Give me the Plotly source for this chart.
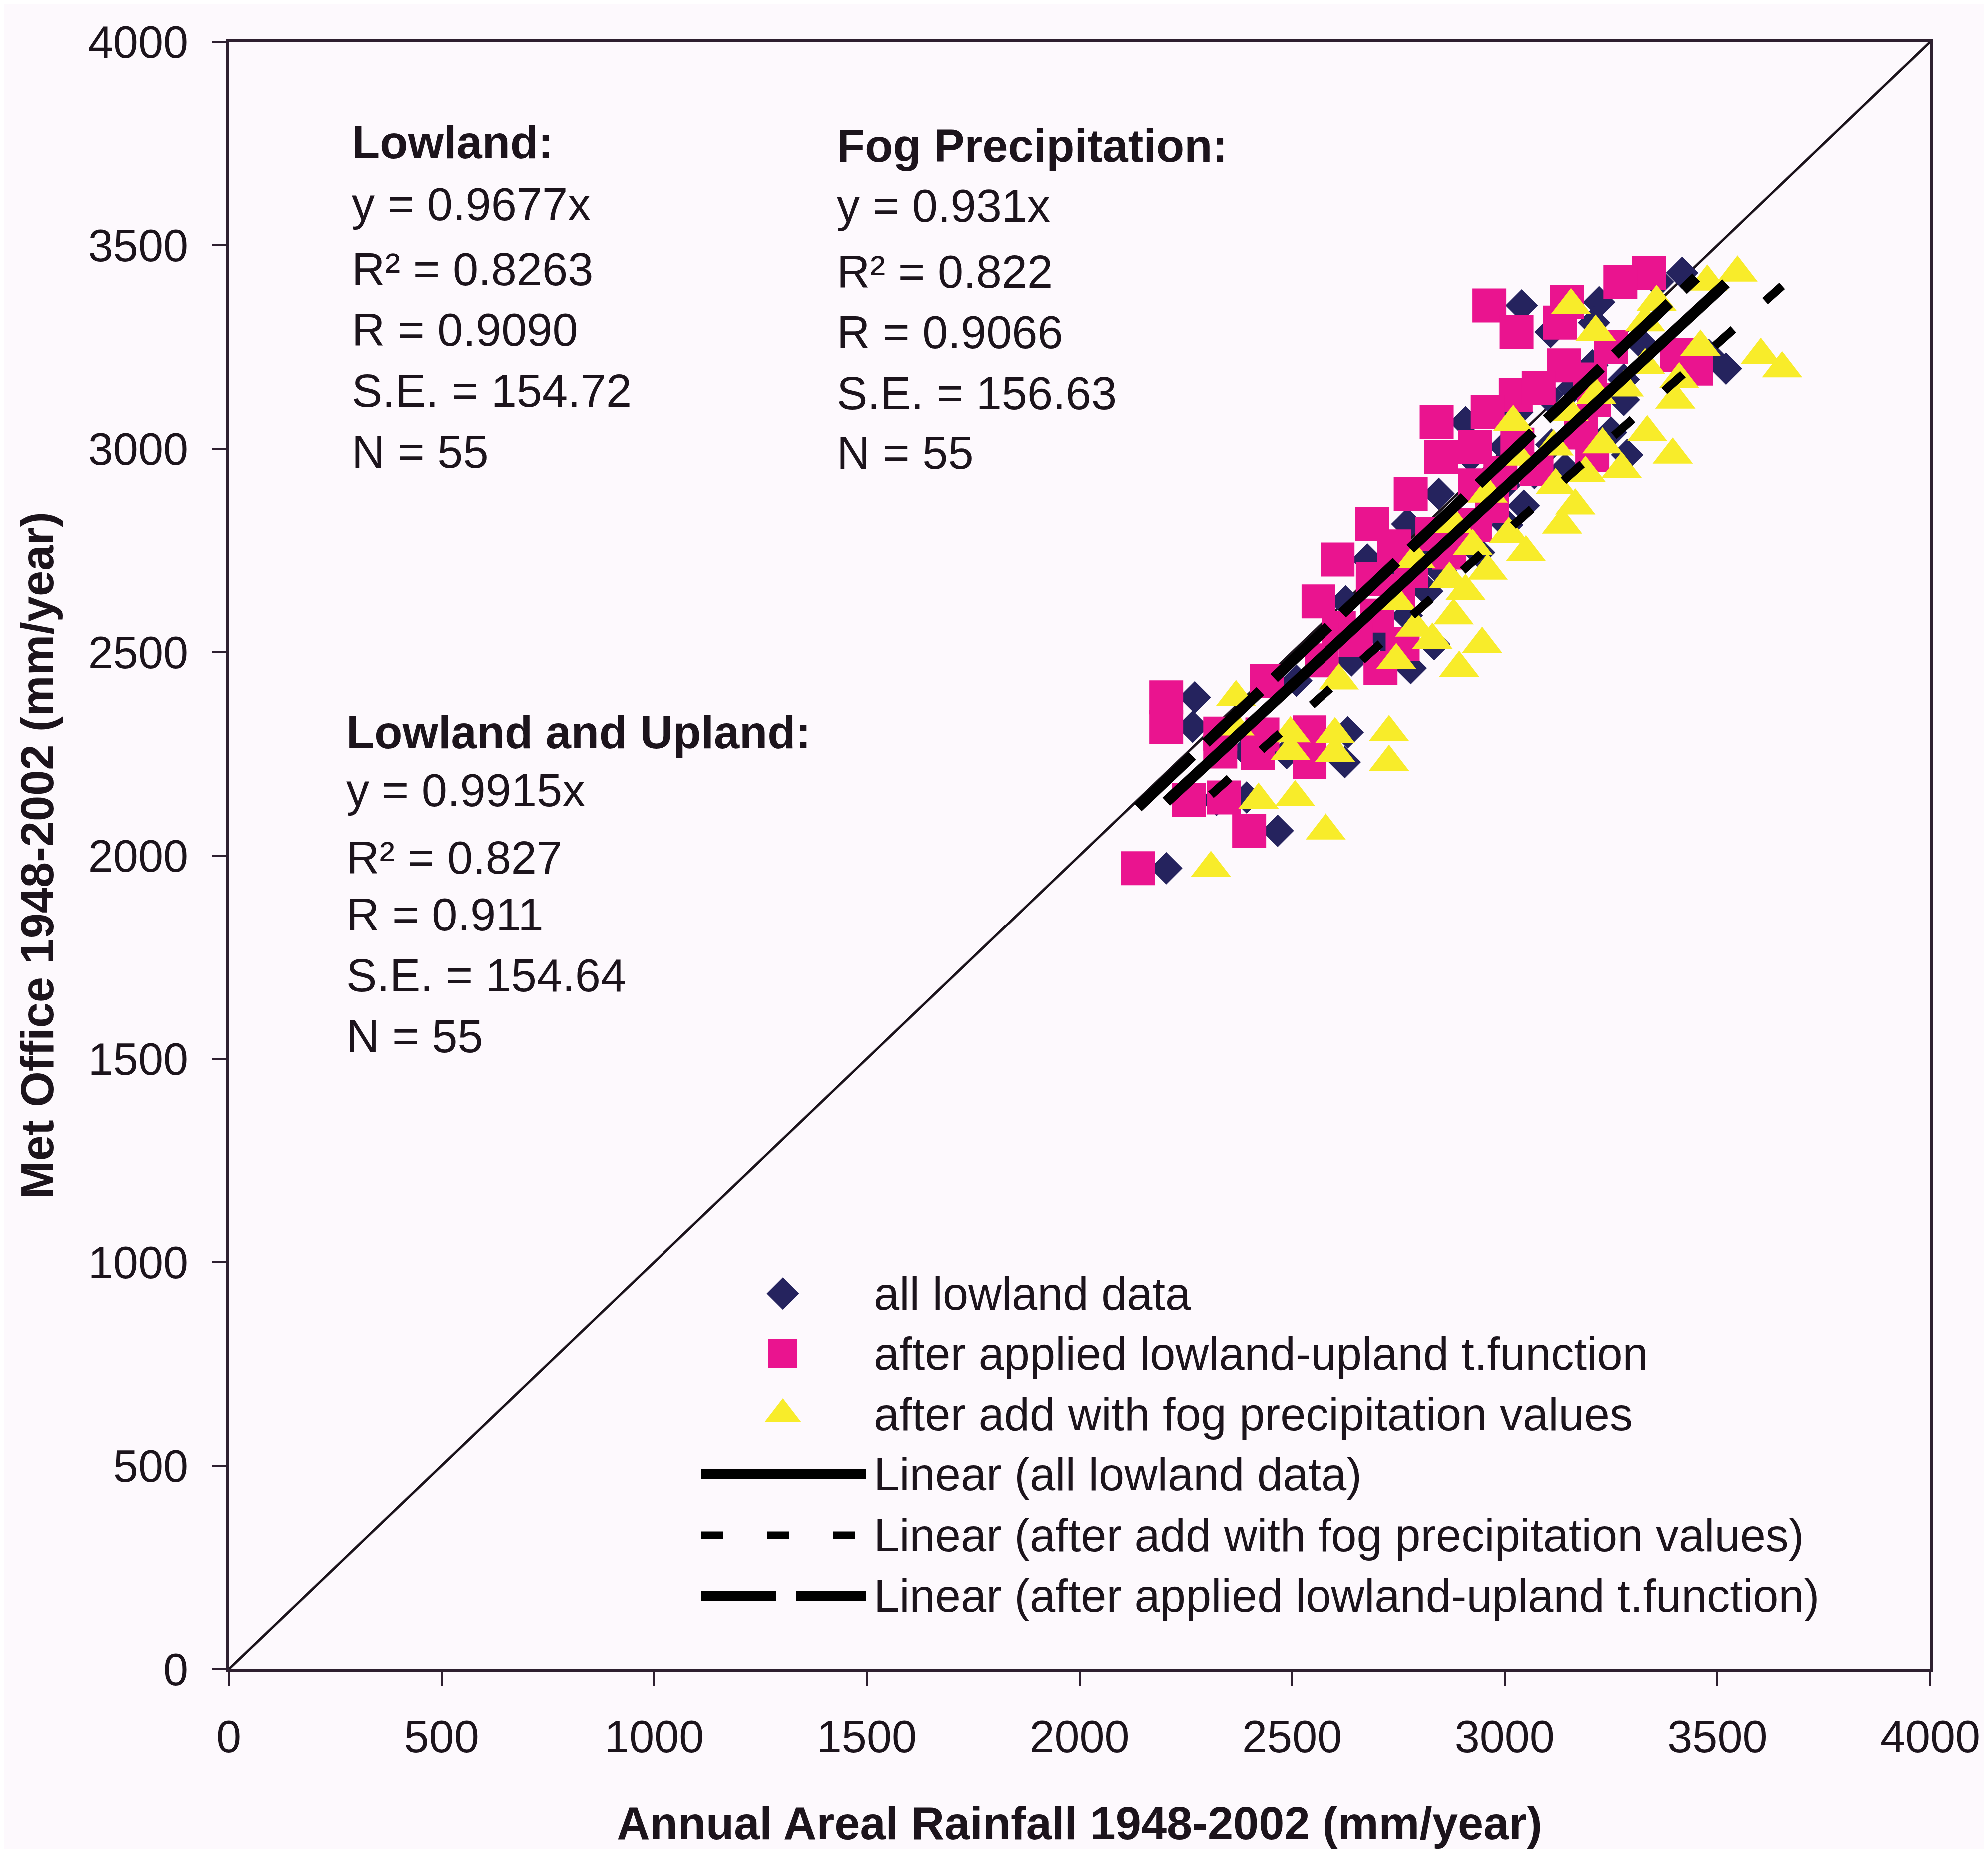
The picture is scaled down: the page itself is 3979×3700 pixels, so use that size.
import plotly.graph_objects as go

# ---------------- data (mm/year) ----------------
# Met Office annual rainfall (y) shared by the three estimates of each year
met_office = [1969, 2061, 2137, 2143, 2389, 2317, 2300, 2256, 2298, 2252,
              2303, 2230, 2461, 2520, 2625, 2650, 2728, 2745, 2815, 2813,
              2860, 2889, 2980, 3065, 2950, 2985, 3040, 3120, 3132, 3205,
              3432, 3410, 3352, 3287, 3360, 3197, 3230, 2430, 2480, 2560,
              2590, 2680, 2700, 2760, 2790, 2910, 2940, 3005, 3010, 3090,
              3150, 3170, 3250, 3310, 2530]
# all lowland data (diamonds)
lowland = [2204, 2466, 2322, 2393, 2271, 2266, 2398, 2392, 2502, 2487,
           2631, 2624, 2779, 2834, 2626, 2818, 2677, 2940, 2771, 3006,
           3045, 2845, 2920, 2908, 3142, 3288, 3250, 3280, 3100, 3206,
           3417, 3360, 3040, 3108, 3222, 3520, 3480, 2510, 2640, 2680,
           2770, 2760, 2850, 2810, 2900, 3000, 3070, 3000, 3110, 3030,
           3160, 3280, 3330, 3210, 2720]
# after applied lowland-upland t.function (squares)
lowland_upland = [2137, 2399, 2257, 2339, 2204, 2204, 2331, 2331, 2430, 2419,
                  2541, 2541, 2708, 2760, 2562, 2750, 2607, 2870, 2689, 2930,
                  2970, 2779, 2850, 2840, 3075, 3206, 3180, 3210, 3026, 3139,
                  3339, 3272, 2964, 3028, 3147, 3450, 3405, 2440, 2570, 2610,
                  2700, 2690, 2780, 2740, 2830, 2930, 2990, 2930, 3030, 2960,
                  3080, 3200, 3250, 3130, 2650]
# after add with fog precipitation values (triangles)
fog = [2309, 2579, 2421, 2507, 2368, 2364, 2496, 2496, 2601, 2601,
       2728, 2728, 2893, 2947, 2745, 2908, 2790, 3050, 2880, 3135,
       3166, 2960, 3030, 3020, 3275, 3395, 3335, 3401, 3215, 3330,
       3547, 3476, 3156, 3214, 3357, 3652, 3602, 2610, 2745, 2790,
       2880, 2870, 2960, 2925, 3010, 3120, 3190, 3115, 3230, 3150,
       3280, 3410, 3460, 3330, 2830]

# regression slopes (through origin) as printed on the chart
slope_lowland = 0.9677
slope_lowland_upland = 0.9915
slope_fog = 0.931

one_to_one = [0, 4000]
tick_vals = [0, 500, 1000, 1500, 2000, 2500, 3000, 3500, 4000]

lowland_stats = ["Lowland:", "y = 0.9677x", "R² = 0.8263",
                 "R = 0.9090", "S.E. = 154.72", "N = 55"]
fog_stats = ["Fog Precipitation:", "y = 0.931x", "R² = 0.822",
             "R = 0.9066", "S.E. = 156.63", "N = 55"]
both_stats = ["Lowland and Upland:", "y = 0.9915x", "R² = 0.827",
              "R = 0.911", "S.E. = 154.64", "N = 55"]

legend_labels = ["all lowland data",
                 "after applied lowland-upland t.function",
                 "after add with fog precipitation values",
                 "Linear (all lowland data)",
                 "Linear (after add with fog precipitation values)",
                 "Linear (after applied lowland-upland t.function)"]

# ---------------- styles ----------------
FONT = "Liberation Sans, Arial, Helvetica, sans-serif"
NAVY = "#25235e"
MAGENTA = "#ea148f"
YELLOW = "#f8ec2a"
INK = "#1c141c"
AXIS = "#2e2030"
BG = "#fdf9fd"

LONG_DASH = "150px,38px"
SHORT_DASH = "50px,85px"

fig = go.Figure()

# 1:1 line
fig.add_trace(go.Scatter(x=one_to_one, y=one_to_one, mode="lines",
                         line=dict(color=INK, width=5), showlegend=False,
                         hoverinfo="skip"))

fig.add_trace(go.Scatter(x=lowland, y=met_office, mode="markers",
                         marker=dict(symbol="diamond", size=50, color=NAVY,
                                     line=dict(width=0)),
                         name=legend_labels[0], showlegend=False))
fig.add_trace(go.Scatter(x=lowland_upland, y=met_office, mode="markers",
                         marker=dict(symbol="square", size=68, color=MAGENTA,
                                     line=dict(width=0)),
                         name=legend_labels[1], showlegend=False))
fig.add_trace(go.Scatter(x=fog, y=met_office, mode="markers",
                         marker=dict(symbol="triangle-up", size=70, color=YELLOW,
                                     line=dict(width=0)),
                         name=legend_labels[2], showlegend=False))


def trend(xs, slope):
    xr = [min(xs), max(xs)]
    return xr, [slope * v for v in xr]


tx, ty = trend(lowland, slope_lowland)
fig.add_trace(go.Scatter(x=tx, y=ty, mode="lines",
                         line=dict(color="#000000", width=22),
                         name=legend_labels[3], showlegend=False))
tx, ty = trend(fog, slope_fog)
fig.add_trace(go.Scatter(x=tx, y=ty, mode="lines",
                         line=dict(color="#000000", width=17, dash=SHORT_DASH),
                         name=legend_labels[4], showlegend=False))
tx, ty = trend(lowland_upland, slope_lowland_upland)
fig.add_trace(go.Scatter(x=tx, y=ty, mode="lines",
                         line=dict(color="#000000", width=22, dash=LONG_DASH),
                         name=legend_labels[5], showlegend=False))

# ---------------- custom legend (overlay axes in plot fractions) ----------------
leg_rows = [0.2307, 0.1938, 0.1566, 0.1198, 0.0823, 0.0451]
mk_x = 0.3257
txt_x = 0.3786
ln_x = [0.2778, 0.3747]
leg_markers = [("diamond", 50, NAVY), ("square", 58, MAGENTA), ("triangle-up", 64, YELLOW)]
for (sym, sz, col), yy in zip(leg_markers, leg_rows[:3]):
    fig.add_trace(go.Scatter(x=[mk_x], y=[yy], xaxis="x2", yaxis="y2", mode="markers",
                             marker=dict(symbol=sym, size=sz, color=col, line=dict(width=0)),
                             showlegend=False, hoverinfo="skip"))
leg_lines = [(20, "solid"), (15, "44px,88px"), (20, "150px,40px")]
for (w, d), yy in zip(leg_lines, leg_rows[3:]):
    fig.add_trace(go.Scatter(x=ln_x, y=[yy, yy], xaxis="x2", yaxis="y2", mode="lines",
                             line=dict(color="#000000", width=w, dash=d),
                             showlegend=False, hoverinfo="skip"))

annotations = []
for lab, yy in zip(legend_labels, leg_rows):
    annotations.append(dict(x=txt_x, y=yy, xref="paper", yref="paper", text=lab,
                            showarrow=False, xanchor="left", yanchor="middle",
                            font=dict(family=FONT, size=92, color=INK)))


def block(lines, x0, ys):
    for i, (t, yy) in enumerate(zip(lines, ys)):
        annotations.append(dict(x=x0, y=yy, xref="paper", yref="paper", text=t,
                                showarrow=False, xanchor="left", yanchor="middle",
                                font=dict(family=FONT, size=92, color=INK,
                                          weight="bold" if i == 0 else "normal")))


block(lowland_stats, 0.0718, [0.9383, 0.9003, 0.8603, 0.8232, 0.7857, 0.7482])
block(fog_stats, 0.3567, [0.9362, 0.8993, 0.8588, 0.8216, 0.7842, 0.7476])
block(both_stats, 0.0683, [0.5759, 0.5403, 0.4988, 0.4638, 0.4264, 0.3889])

axis_common = dict(range=[0, 4000], tickvals=tick_vals, ticks="outside", ticklen=28,
                   tickwidth=4, tickcolor=AXIS, showline=True, linecolor=AXIS,
                   linewidth=5, mirror=True, showgrid=False, zeroline=False,
                   tickfont=dict(family=FONT, size=90, color=INK))

fig.update_layout(
    width=3979, height=3700,
    margin=dict(l=450, r=124, t=76, b=368),
    paper_bgcolor=BG, plot_bgcolor=BG,
    showlegend=False,
    xaxis=dict(**axis_common, ticklabelstandoff=25,
               title=dict(text="Annual Areal Rainfall 1948-2002 (mm/year)",
                          font=dict(family=FONT, size=92, color=INK, weight="bold"),
                          standoff=93)),
    yaxis=dict(**axis_common, ticklabelstandoff=30,
               title=dict(text="Met Office 1948-2002 (mm/year)",
                          font=dict(family=FONT, size=92, color=INK, weight="bold"),
                          standoff=40)),
    xaxis2=dict(range=[0, 1], overlaying="x", visible=False, fixedrange=True),
    yaxis2=dict(range=[0, 1], overlaying="y", visible=False, fixedrange=True),
    annotations=annotations,
)

fig.write_html("out.html")
